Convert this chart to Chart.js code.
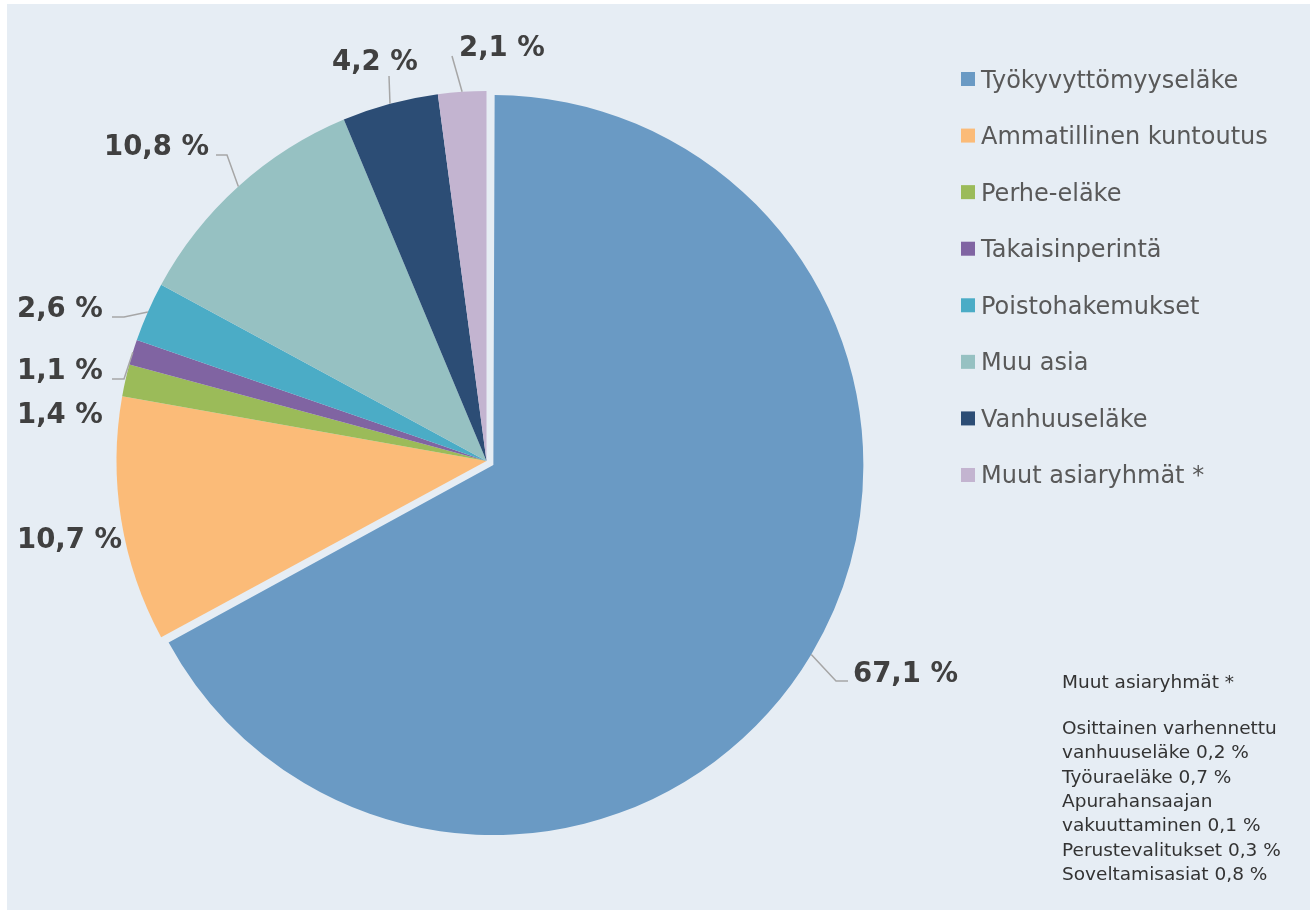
<!DOCTYPE html>
<html>
<head>
<meta charset="utf-8">
<script src="https://cdn.jsdelivr.net/npm/chart.js@4.4.1/dist/chart.umd.min.js"></script>
<style>
  html, body { margin: 0; padding: 0; background: #ffffff; }
  #wrap { position: relative; width: 1310px; height: 910px; }
  canvas { display: block; }
</style>
</head>
<body>
<div id="wrap"><canvas id="c" width="1310" height="910"></canvas></div>
<script>
// ---- data ----
const categories = [
  'Työkyvyttömyyseläke',
  'Ammatillinen kuntoutus',
  'Perhe-eläke',
  'Takaisinperintä',
  'Poistohakemukset',
  'Muu asia',
  'Vanhuuseläke',
  'Muut asiaryhmät *'
];
const shares = [67.1, 10.7, 1.4, 1.1, 2.6, 10.8, 4.2, 2.1];
const noteTitle = 'Muut asiaryhmät *';
const noteLines = [
  'Osittainen varhennettu',
  'vanhuuseläke 0,2 %',
  'Työuraeläke 0,7 %',
  'Apurahansaajan',
  'vakuuttaminen 0,1 %',
  'Perustevalitukset 0,3 %',
  'Soveltamisasiat 0,8 %'
];

// ---- styles ----
const sliceColors = ['#6A9AC4', '#FBBB78', '#9BBB59', '#8064A2', '#4BACC6', '#96C1C2', '#2C4D75', '#C3B4D0'];
const sliceOffsets = [32, 0, 0, 0, 0, 0, 0, 0];
const BG = '#E6EDF4';
const FONT = '"DejaVu Sans", Verdana, sans-serif';

// label placement: text left x, text baseline y, leader polyline points (from label side toward slice)
const labelLayout = [
  { x: 853, base: 682, leader: [[848, 681], [836, 681]] },
  { x: 17,  base: 548, leader: null },
  { x: 17,  base: 423, leader: null },
  { x: 17,  base: 379, leader: [[112, 379], [124, 379]] },
  { x: 17,  base: 317, leader: [[112, 317], [124, 317]] },
  { x: 104, base: 155, leader: [[216, 155], [227, 155]] },
  { x: 332, base: 70,  leader: [[389, 76]] },
  { x: 459, base: 56,  leader: [[452, 56]] }
];

function fmt(v) { return v.toFixed(1).replace('.', ',') + ' %'; }

function arcFix(arc) {
  const off = (arc.options.offset || 0) / 4;
  const fix = 1 - Math.sin(Math.min(Math.PI, arc.circumference || (arc.endAngle - arc.startAngle) || 0));
  return { off, grow: off * fix };
}

// exploded slice: keep same radius as the rest (library enlarges it by default)
const explodePlugin = {
  id: 'explodeFix',
  afterDatasetsUpdate(chart) {
    const meta = chart.getDatasetMeta(0);
    meta.data.forEach(arc => {
      const f = arcFix(arc);
      if (f.grow) arc.outerRadius = arc.outerRadius - f.grow;
    });
  }
};

const bgPlugin = {
  id: 'bg',
  beforeDraw(chart) {
    const ctx = chart.ctx;
    ctx.save();
    ctx.fillStyle = '#ffffff';
    ctx.fillRect(0, 0, chart.width, chart.height);
    ctx.fillStyle = BG;
    ctx.fillRect(7, 4, chart.width - 7, chart.height - 4);
    ctx.restore();
  }
};

const annotPlugin = {
  id: 'annot',
  afterDraw(chart) {
    const ctx = chart.ctx;
    const meta = chart.getDatasetMeta(0);
    const ds = chart.data.datasets[0];
    ctx.save();
    meta.data.forEach((arc, i) => {
      const mid = (arc.startAngle + arc.endAngle) / 2;
      const f = arcFix(arc);
      const cx = arc.x + Math.cos(mid) * f.off;
      const cy = arc.y + Math.sin(mid) * f.off;
      const r = arc.outerRadius + f.grow;
      const ax = cx + Math.cos(mid) * r;
      const ay = cy + Math.sin(mid) * r;
      const L = labelLayout[i];
      if (L.leader) {
        ctx.strokeStyle = '#A6A6A6';
        ctx.lineWidth = 1.5;
        ctx.beginPath();
        ctx.moveTo(L.leader[0][0], L.leader[0][1]);
        for (let k = 1; k < L.leader.length; k++) ctx.lineTo(L.leader[k][0], L.leader[k][1]);
        ctx.lineTo(ax, ay);
        ctx.stroke();
      }
      ctx.fillStyle = '#404040';
      ctx.font = 'bold 27.5px ' + FONT;
      ctx.textAlign = 'left';
      ctx.textBaseline = 'alphabetic';
      ctx.fillText(fmt(ds.data[i]), L.x, L.base);
    });
    // legend
    chart.data.labels.forEach((lab, i) => {
      const cyy = 79 + 56.57 * i;
      ctx.fillStyle = ds.backgroundColor[i];
      ctx.fillRect(961, cyy - 7, 14, 14);
      ctx.fillStyle = '#595959';
      ctx.font = '24px ' + FONT;
      ctx.textBaseline = 'alphabetic';
      ctx.fillText(lab, 981, cyy + 8.5);
    });
    // note
    ctx.fillStyle = '#333333';
    ctx.font = '18.5px ' + FONT;
    ctx.fillText(noteTitle, 1062, 688);
    noteLines.forEach((t, k) => ctx.fillText(t, 1062, 734 + 24.3 * k));
    ctx.restore();
  }
};

new Chart(document.getElementById('c'), {
  type: 'pie',
  data: {
    labels: categories,
    datasets: [{
      data: shares,
      backgroundColor: sliceColors,
      borderWidth: 0,
      hoverBorderWidth: 0,
      hoverOffset: 0,
      offset: sliceOffsets
    }]
  },
  options: {
    responsive: false,
    animation: false,
    devicePixelRatio: 1,
    layout: { padding: { left: 100.5, top: 75, right: 437.5, bottom: 63 } },
    plugins: {
      legend: { display: false },
      tooltip: { enabled: false }
    },
    events: []
  },
  plugins: [explodePlugin, bgPlugin, annotPlugin]
});
</script>
</body>
</html>
